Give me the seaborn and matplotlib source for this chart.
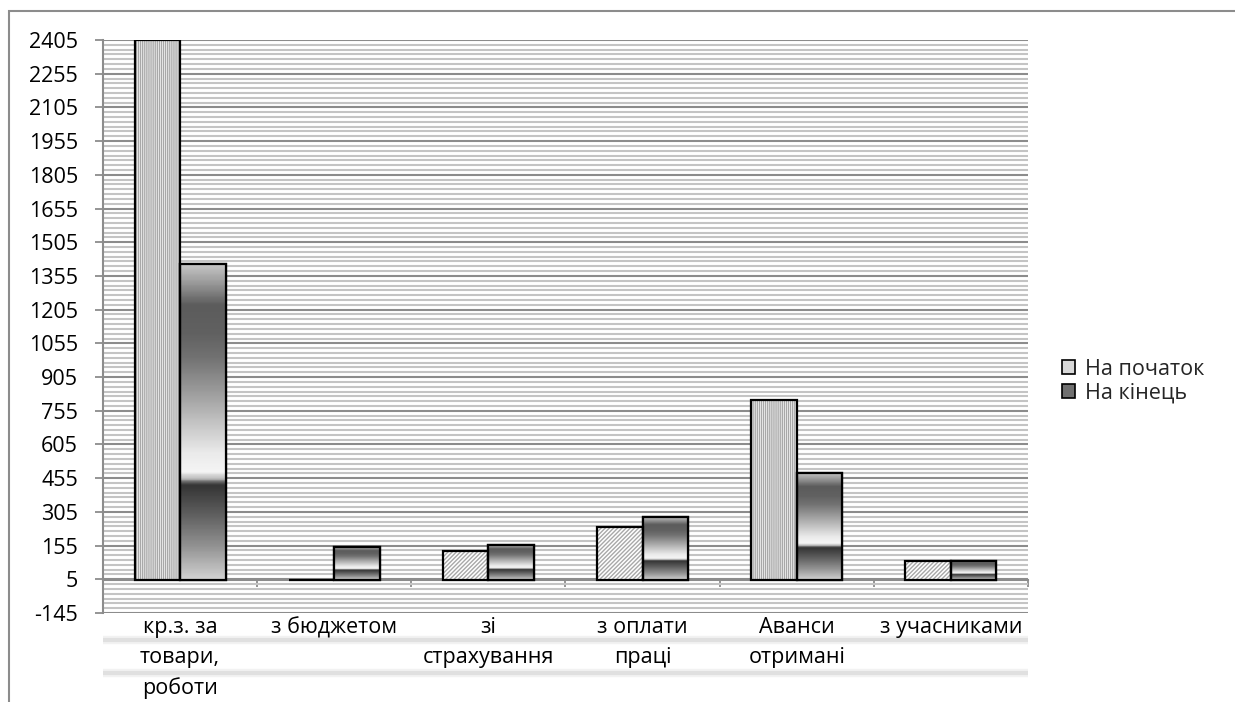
import numpy as np
import pandas as pd
import matplotlib
matplotlib.use("Agg")
import matplotlib.pyplot as plt
import seaborn as sns
from matplotlib.patches import Rectangle, Patch
from matplotlib.lines import Line2D
from matplotlib.ticker import AutoMinorLocator, FixedLocator
from matplotlib.colors import LinearSegmentedColormap

categories = ["кр.з. за\nтовари,\nроботи", "з бюджетом", "зі\nстрахування",
              "з оплати\nпраці", "Аванси\nотримані", "з учасниками"]
series_names = ["На початок", "На кінець"]
start_values = [2405, 3, 130, 236, 802, 85]
end_values = [1407, 147, 156, 281, 477, 85]
y_ticks = list(range(-145, 2406, 150))

sns.set_theme(style="white")
plt.rcParams['font.family'] = ['Open Sans', 'DejaVu Sans']
plt.rcParams['hatch.linewidth'] = 1.0

FS = 15.5
W, H = 1235, 702
fig = plt.figure(figsize=(W / 100, H / 100), dpi=100)
ax = fig.add_axes([103 / W, 1 - 613 / H, (1028 - 103) / W, (613 - 40) / H])

df = pd.DataFrame({
    "cat": categories * 2,
    "val": start_values + end_values,
    "series": [series_names[0]] * 6 + [series_names[1]] * 6,
})
sns.barplot(data=df, x="cat", y="val", hue="series", order=categories,
            hue_order=series_names, width=0.59, dodge=True,
            palette=["white", "#888888"], saturation=1, edgecolor="black",
            linewidth=1.6, legend=False, ax=ax, zorder=3)

ymin, ymax = -145, 2405
stops = [(0.0, 0.78), (0.06, 0.6), (0.13, 0.36), (0.22, 0.38), (0.3, 0.45),
         (0.43, 0.65), (0.6, 0.92), (0.66, 0.96), (0.68, 0.75), (0.70, 0.2),
         (0.8, 0.38), (0.9, 0.58), (1.0, 0.82)]
grad_cmap = LinearSegmentedColormap.from_list(
    "g", [(p, (v, v, v)) for p, v in stops])

start_bars = ax.containers[0]
end_bars = ax.containers[1]
for b in start_bars:
    x0, y0 = b.get_x(), b.get_y()
    w, h = b.get_width(), b.get_height()
    b.set_edgecolor("#a8a8a8")
    b.set_linewidth(0)
    b.set_hatch("||||||||" if h > 500 else "////////")
    ax.add_patch(Rectangle((x0, y0), w, h, fill=False, edgecolor="black",
                           linewidth=1.6, zorder=4))
for b in end_bars:
    x0, y0 = b.get_x(), b.get_y()
    w, h = b.get_width(), b.get_height()
    grad = np.linspace(0, 1, 200).reshape(-1, 1)
    im = ax.imshow(grad, cmap=grad_cmap, extent=(x0, x0 + w, y0, y0 + h),
                   origin="upper", aspect="auto", zorder=3.5,
                   interpolation="bilinear")
    im.set_clip_path(b)
    ax.add_patch(Rectangle((x0, y0), w, h, fill=False, edgecolor="black",
                           linewidth=1.6, zorder=4))

ax.set_xlim(-0.5, len(categories) - 0.5)
ax.set_ylim(ymin, ymax)
ax.set_aspect("auto")
ax.set_xlabel("")
ax.set_ylabel("")

ax.yaxis.set_major_locator(FixedLocator(y_ticks))
ax.yaxis.set_minor_locator(AutoMinorLocator(7))
ax.grid(True, axis="y", which="major", color="#8c8c8c", linewidth=1.5, zorder=0)
ax.grid(True, axis="y", which="minor", color="#c4c4c4", linewidth=1.5, zorder=0)
ax.set_axisbelow(True)

for s in ["top", "right"]:
    ax.spines[s].set_visible(False)
ax.spines["left"].set_color("#8c8c8c")
ax.spines["left"].set_linewidth(1.5)
ax.spines["bottom"].set_position(("data", 0))
ax.spines["bottom"].set_color("#8c8c8c")
ax.spines["bottom"].set_linewidth(1.5)

ax.tick_params(axis="y", which="major", direction="out", length=6, width=1.3,
               color="#8c8c8c", pad=12, labelsize=FS, left=True, labelcolor="black")
ax.tick_params(axis="y", which="minor", length=0)
ax.set_yticklabels([str(t) for t in y_ticks])

ax.xaxis.set_minor_locator(FixedLocator(np.arange(-0.5, len(categories), 1.0)))
ax.tick_params(axis="x", which="minor", direction="out", length=5, width=1.3,
               color="#8c8c8c", bottom=True)
ax.tick_params(axis="x", which="major", length=0, pad=26.5, labelsize=FS,
               labelcolor="black")
for lab in ax.get_xticklabels():
    lab.set_linespacing(1.55)
    lab.set_verticalalignment("top")

for yy in [640, 673]:
    for lw, a in [(6, 0.25), (3, 0.5)]:
        fig.add_artist(Line2D([103 / W, 1028 / W], [1 - yy / H, 1 - yy / H],
                              transform=fig.transFigure, color="#cfcfcf",
                              linewidth=lw, alpha=a, solid_capstyle="butt",
                              zorder=0))

fig.add_artist(Rectangle((9 / W, -0.1), 1.2, 1.1 - 11 / H, transform=fig.transFigure,
                         fill=False, edgecolor="#8c8c8c", linewidth=1.5))

handles = [Patch(facecolor="#d8d8d8", edgecolor="black", linewidth=1.2),
           Patch(facecolor="#707070", edgecolor="black", linewidth=1.2)]
fig.legend(handles, series_names, loc="center left",
           bbox_to_anchor=(1043 / W, 1 - 381 / H), frameon=False,
           fontsize=FS, handlelength=0.6, handleheight=0.6,
           handletextpad=0.45, labelspacing=0.12)

fig.savefig("out.png", dpi=100)
